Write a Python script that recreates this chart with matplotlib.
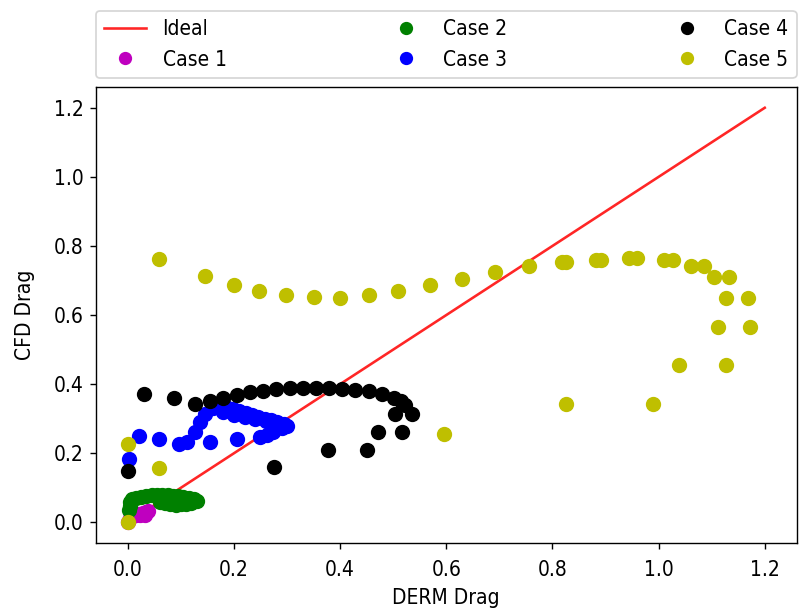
import matplotlib
matplotlib.use("Agg")
import matplotlib.pyplot as plt

plt.rcParams["font.family"] = ["DejaVu Sans"]
plt.rcParams["font.stretch"] = "condensed"

# Reference diagonal (perfect agreement)
ideal_x = [0.0, 1.2]
ideal_y = [0.0, 1.2]

# Case 1
case1_x = [0.000, 0.005, 0.016, 0.022, 0.028, 0.034, 0.038, 0.024, 0.032]
case1_y = [0.002, 0.012, 0.020, 0.024, 0.028, 0.030, 0.032, 0.020, 0.022]

# Case 2
case2_x = [0.003, 0.004, 0.005, 0.008, 0.015, 0.025, 0.035, 0.045, 0.055, 0.065,
           0.075, 0.085, 0.095, 0.105, 0.115, 0.125, 0.060, 0.070, 0.080, 0.090,
           0.100, 0.110, 0.120, 0.130]
case2_y = [0.035, 0.048, 0.060, 0.068, 0.071, 0.074, 0.077, 0.079, 0.080, 0.080,
           0.079, 0.077, 0.075, 0.073, 0.071, 0.068, 0.058, 0.055, 0.052, 0.051,
           0.052, 0.054, 0.056, 0.062]

# Case 3
case3_x = [0.002, 0.021, 0.059, 0.096, 0.112, 0.127, 0.136, 0.146, 0.155, 0.160,
           0.172, 0.185, 0.198, 0.205, 0.210, 0.222, 0.234, 0.246, 0.258, 0.270,
           0.282, 0.294, 0.300, 0.290, 0.273, 0.262, 0.249, 0.180, 0.200, 0.220,
           0.240, 0.260, 0.280]
case3_y = [0.184, 0.251, 0.241, 0.227, 0.232, 0.262, 0.290, 0.315, 0.232, 0.330,
           0.335, 0.333, 0.328, 0.241, 0.322, 0.317, 0.312, 0.306, 0.300, 0.295,
           0.290, 0.285, 0.280, 0.272, 0.262, 0.253, 0.246, 0.320, 0.312, 0.305,
           0.298, 0.292, 0.283]

# Case 4
case4_x = [0.000, 0.031, 0.087, 0.275, 0.378, 0.451, 0.472, 0.516, 0.127, 0.155,
           0.180, 0.205, 0.230, 0.255, 0.280, 0.305, 0.330, 0.355, 0.379, 0.404,
           0.429, 0.454, 0.479, 0.501, 0.515, 0.523, 0.535, 0.504]
case4_y = [0.148, 0.371, 0.360, 0.160, 0.210, 0.210, 0.262, 0.262, 0.342, 0.350,
           0.360, 0.369, 0.376, 0.381, 0.386, 0.389, 0.389, 0.389, 0.389, 0.386,
           0.384, 0.379, 0.371, 0.361, 0.352, 0.340, 0.313, 0.313]

# Case 5
case5_x = [0.000, 0.000, 0.059, 0.059, 0.145, 0.200, 0.247, 0.298, 0.350, 0.400,
           0.455, 0.510, 0.569, 0.629, 0.691, 0.756, 0.818, 0.826, 0.882, 0.892,
           0.945, 0.960, 1.010, 1.028, 1.062, 1.085, 1.105, 1.132, 1.127, 1.168,
           1.112, 1.172, 1.038, 1.127, 0.826, 0.990, 0.596]
case5_y = [0.000, 0.227, 0.158, 0.761, 0.712, 0.686, 0.669, 0.657, 0.652, 0.650,
           0.657, 0.669, 0.688, 0.705, 0.724, 0.741, 0.753, 0.753, 0.758, 0.758,
           0.765, 0.765, 0.758, 0.758, 0.741, 0.741, 0.710, 0.710, 0.650, 0.650,
           0.565, 0.565, 0.455, 0.455, 0.342, 0.342, 0.257]

fig = plt.figure(figsize=(799 / 125, 613 / 125), dpi=125)
ax = fig.add_axes([0.120, 0.114, 0.877, 0.744])

ax.plot(ideal_x, ideal_y, color="r", lw=1.5, alpha=0.85, label="Ideal")
ms = 7.8
ax.plot(case1_x, case1_y, "o", color="m", ms=ms, label="Case 1")
ax.plot(case2_x, case2_y, "o", color="g", ms=ms, label="Case 2")
ax.plot(case3_x, case3_y, "o", color="b", ms=ms, label="Case 3")
ax.plot(case4_x, case4_y, "o", color="k", ms=ms, label="Case 4")
ax.plot(case5_x, case5_y, "o", color="y", ms=ms, label="Case 5")

ax.set_xlabel("DERM Drag", fontsize=12, labelpad=5)
ax.set_ylabel("CFD Drag", fontsize=12, labelpad=11)
ax.set_xticks([0.0, 0.2, 0.4, 0.6, 0.8, 1.0, 1.2])
ax.set_yticks([0.0, 0.2, 0.4, 0.6, 0.8, 1.0, 1.2])
ax.tick_params(labelsize=12)
ax.tick_params(axis="x", pad=6)

ax.legend(bbox_to_anchor=(0.0, 1.02, 1.0, 0.102), loc="lower left",
          ncol=3, mode="expand", borderaxespad=0.0, fontsize=12, markerscale=0.85)

fig.savefig("out.png", dpi=125)
